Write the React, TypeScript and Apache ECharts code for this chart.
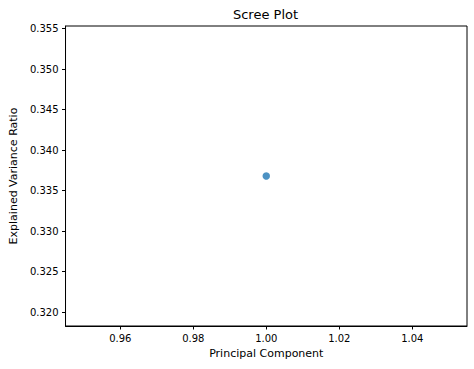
import React, { useEffect, useRef } from "react";
import * as echarts from "echarts";

const components = [1];
const varianceRatio = [0.3368];
const xTicks = [0.96, 0.98, 1.0, 1.02, 1.04];
const yTicks = [0.32, 0.325, 0.33, 0.335, 0.34, 0.345, 0.35, 0.355];

export default function App() {
  const ref = useRef<HTMLDivElement>(null);
  useEffect(() => {
    const chart = echarts.init(ref.current!, null, { renderer: "svg" });
    const v = varianceRatio[0];
    const font = "DejaVu Sans";
    chart.setOption({
      animation: false,
      backgroundColor: "#fff",
      textStyle: { fontFamily: font },
      grid: {
        left: 64,
        top: 26,
        right: 7,
        bottom: 43,
        show: true,
        borderColor: "#000",
        borderWidth: 1,
        backgroundColor: "#fff",
      },
      graphic: [
        {
          type: "text",
          x: 265.5,
          y: 14,
          style: {
            text: "Scree Plot",
            fill: "#000",
            font: `13px '${font}'`,
            textAlign: "center",
            textVerticalAlign: "middle",
          },
        },
      ],
      xAxis: {
        type: "value",
        min: 0.945,
        max: 1.055,
        name: "Principal Component",
        nameLocation: "middle",
        nameGap: 22,
        nameTextStyle: { color: "#000", fontSize: 11, fontFamily: font, verticalAlign: "top" },
        axisLine: { show: true, lineStyle: { color: "#000", width: 1 } },
        axisTick: { show: true, inside: false, length: 3.5, customValues: xTicks, lineStyle: { color: "#000" } },
        axisLabel: {
          customValues: xTicks,
          color: "#000",
          fontSize: 10,
          fontFamily: font,
          margin: 7,
          formatter: (val: number) => val.toFixed(2),
        },
        splitLine: { show: false },
      },
      yAxis: {
        type: "value",
        min: v * 0.945,
        max: v * 1.055,
        name: "Explained Variance Ratio",
        nameLocation: "middle",
        nameGap: 46,
        nameTextStyle: { color: "#000", fontSize: 11, fontFamily: font },
        axisLine: { show: true, lineStyle: { color: "#000", width: 1 } },
        axisTick: { show: true, inside: false, length: 3.5, customValues: yTicks, lineStyle: { color: "#000" } },
        axisLabel: {
          customValues: yTicks,
          color: "#000",
          fontSize: 10,
          fontFamily: font,
          margin: 7,
          formatter: (val: number) => val.toFixed(3),
        },
        splitLine: { show: false },
      },
      series: [
        {
          type: "scatter",
          data: components.map((c, i) => [c, varianceRatio[i]]),
          symbol: "circle",
          symbolSize: 7.5,
          itemStyle: { color: "#1f77b4" },
        },
      ],
    });
    return () => chart.dispose();
  }, []);
  return <div ref={ref} style={{ width: 474, height: 369, position: "absolute", left: 0, top: 0 }} />;
}
